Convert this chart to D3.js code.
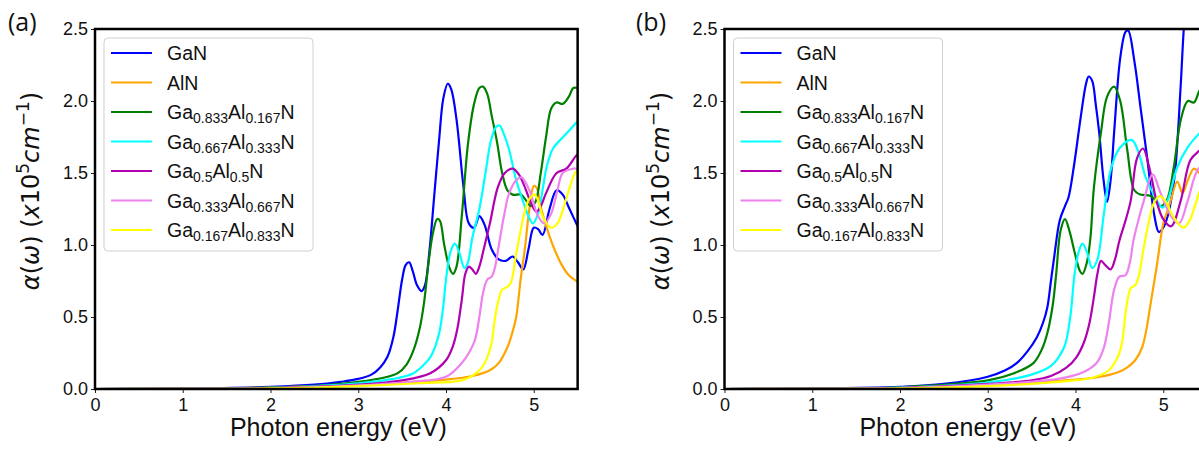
<!DOCTYPE html>
<html>
<head>
<meta charset="utf-8">
<script src="https://cdn.jsdelivr.net/npm/d3@7"></script>
<style>
  body { margin: 0; background: #fff; }
  text { font-family: "Liberation Sans", Arial, sans-serif; }
</style>
</head>
<body>
<svg id="chart" width="1199" height="449"></svg>
<script>
// legend labels, in plotting order
const seriesLabels = ["GaN", "AlN", "Ga0.833Al0.167N", "Ga0.667Al0.333N", "Ga0.5Al0.5N", "Ga0.333Al0.667N", "Ga0.167Al0.833N"];
const seriesColors = ["#0000ff", "#ffa500", "#008000", "#00ffff", "#b000b0", "#ee82ee", "#ffff00"];
const xTicks = [0, 1, 2, 3, 4, 5];
const yTicks = [0.0, 0.5, 1.0, 1.5, 2.0, 2.5];

// panel (a): [photon energy eV, alpha x1e5 cm-1]
const ganA = [[0,0],[1,0.003],[2,0.015],[2.5,0.03],[2.8,0.05],[3,0.07],[3.15,0.1],[3.25,0.15],[3.33,0.22],[3.4,0.36],[3.45,0.55],[3.5,0.76],[3.54,0.86],[3.58,0.88],[3.62,0.82],[3.67,0.72],[3.72,0.68],[3.76,0.72],[3.81,0.95],[3.86,1.3],[3.92,1.72],[3.97,2.02],[4.02,2.12],[4.06,2.08],[4.12,1.87],[4.2,1.4],[4.26,1.15],[4.32,1.12],[4.38,1.2],[4.44,1.14],[4.52,0.97],[4.6,0.9],[4.68,0.89],[4.76,0.92],[4.82,0.88],[4.88,0.83],[4.94,0.97],[5.0,1.12],[5.05,1.11],[5.1,1.07],[5.18,1.25],[5.26,1.38],[5.33,1.35],[5.4,1.26],[5.5,1.13]];
const alnA = [[0,0],[1,0.002],[2,0.01],[3,0.03],[3.5,0.045],[4,0.065],[4.3,0.09],[4.5,0.13],[4.6,0.18],[4.7,0.29],[4.76,0.4],[4.8,0.5],[4.85,0.76],[4.9,0.98],[4.95,1.25],[5.0,1.41],[5.03,1.4],[5.09,1.24],[5.18,1.06],[5.25,0.95],[5.32,0.86],[5.4,0.79],[5.5,0.745]];
const g833A = [[0,0],[1,0.002],[2,0.01],[2.5,0.022],[3,0.05],[3.3,0.08],[3.45,0.11],[3.55,0.17],[3.63,0.27],[3.7,0.42],[3.75,0.6],[3.8,0.87],[3.85,1.08],[3.9,1.18],[3.93,1.17],[3.98,1.0],[4.04,0.84],[4.08,0.8],[4.12,0.85],[4.18,1.2],[4.25,1.7],[4.32,1.98],[4.38,2.09],[4.42,2.1],[4.47,2.05],[4.52,1.9],[4.58,1.72],[4.64,1.5],[4.7,1.38],[4.76,1.35],[4.85,1.35],[4.9,1.32],[4.97,1.27],[5.02,1.3],[5.08,1.5],[5.14,1.75],[5.2,1.95],[5.26,1.99],[5.33,1.98],[5.4,2.03],[5.45,2.09],[5.5,2.09]];
const g667A = [[0,0],[1,0.002],[2,0.008],[3,0.04],[3.4,0.07],[3.63,0.11],[3.75,0.17],[3.82,0.22],[3.88,0.3],[3.93,0.41],[3.97,0.58],[4.0,0.76],[4.05,0.95],[4.1,1.01],[4.15,0.95],[4.21,0.84],[4.25,0.88],[4.3,1.05],[4.38,1.25],[4.45,1.5],[4.51,1.72],[4.57,1.82],[4.61,1.83],[4.66,1.77],[4.72,1.66],[4.8,1.45],[4.88,1.3],[4.94,1.2],[4.99,1.15],[5.05,1.22],[5.1,1.38],[5.15,1.55],[5.22,1.67],[5.35,1.76],[5.5,1.86]];
const g5A = [[0,0],[1,0.002],[2,0.007],[3,0.03],[3.5,0.06],[3.82,0.11],[4.0,0.2],[4.08,0.3],[4.13,0.42],[4.18,0.62],[4.22,0.8],[4.26,0.85],[4.3,0.83],[4.34,0.8],[4.38,0.85],[4.43,0.97],[4.5,1.15],[4.59,1.4],[4.67,1.5],[4.76,1.53],[4.83,1.49],[4.88,1.43],[4.97,1.29],[5.03,1.23],[5.08,1.27],[5.14,1.36],[5.26,1.5],[5.37,1.53],[5.47,1.61],[5.5,1.63]];
const g333A = [[0,0],[1,0.001],[2,0.005],[3,0.025],[3.6,0.05],[4.0,0.085],[4.18,0.18],[4.27,0.26],[4.33,0.34],[4.38,0.5],[4.42,0.66],[4.47,0.76],[4.52,0.78],[4.56,0.85],[4.6,0.99],[4.66,1.2],[4.72,1.36],[4.8,1.45],[4.86,1.47],[4.95,1.38],[5.05,1.2],[5.12,1.15],[5.2,1.22],[5.27,1.38],[5.33,1.5],[5.45,1.53],[5.5,1.53]];
const g167A = [[0,0],[1,0.001],[2,0.004],[3,0.02],[3.7,0.04],[4.18,0.06],[4.32,0.1],[4.41,0.15],[4.47,0.22],[4.52,0.32],[4.56,0.5],[4.6,0.62],[4.64,0.69],[4.7,0.71],[4.74,0.74],[4.8,0.94],[4.85,1.1],[4.9,1.24],[4.95,1.32],[5.01,1.35],[5.06,1.29],[5.1,1.2],[5.2,1.12],[5.27,1.15],[5.33,1.24],[5.4,1.38],[5.47,1.5],[5.5,1.52]];

// panel (b)
const ganB = [[0,0],[1,0.003],[2,0.015],[2.5,0.035],[3,0.085],[3.2,0.13],[3.33,0.18],[3.45,0.26],[3.56,0.36],[3.63,0.46],[3.68,0.57],[3.72,0.75],[3.76,0.93],[3.82,1.17],[3.88,1.27],[3.92,1.33],[3.98,1.54],[4.06,1.89],[4.12,2.12],[4.15,2.17],[4.19,2.14],[4.23,1.98],[4.27,1.78],[4.32,1.45],[4.36,1.3],[4.4,1.45],[4.44,1.78],[4.51,2.3],[4.57,2.48],[4.6,2.49],[4.67,2.28],[4.74,1.96],[4.82,1.59],[4.9,1.2],[4.95,1.09],[5.0,1.12],[5.05,1.2],[5.1,1.35],[5.14,1.54],[5.2,2.12],[5.24,2.55],[5.3,2.9],[5.45,3.0]];
const alnB = [[0,0],[1,0.002],[2,0.008],[3,0.03],[3.5,0.045],[4.0,0.065],[4.28,0.085],[4.5,0.12],[4.59,0.15],[4.68,0.2],[4.76,0.29],[4.81,0.42],[4.85,0.57],[4.93,0.87],[5.0,1.15],[5.05,1.24],[5.09,1.32],[5.16,1.44],[5.22,1.36],[5.28,1.45],[5.35,1.53],[5.41,1.5],[5.5,1.45]];
const g833B = [[0,0],[1,0.002],[2,0.012],[3,0.06],[3.3,0.11],[3.52,0.18],[3.62,0.28],[3.68,0.39],[3.74,0.58],[3.78,0.8],[3.83,1.1],[3.88,1.18],[3.93,1.1],[3.99,0.95],[4.05,0.82],[4.08,0.8],[4.13,0.88],[4.17,1.05],[4.21,1.4],[4.29,1.78],[4.36,2.03],[4.44,2.1],[4.51,2.0],[4.59,1.66],[4.67,1.38],[4.74,1.35],[4.86,1.34],[4.97,1.27],[5.04,1.31],[5.12,1.54],[5.2,1.87],[5.28,2.0],[5.35,1.99],[5.42,2.08],[5.5,2.12]];
const g667B = [[0,0],[1,0.002],[2,0.01],[3,0.045],[3.5,0.1],[3.72,0.16],[3.87,0.29],[3.94,0.5],[3.99,0.8],[4.04,0.96],[4.08,1.01],[4.13,0.95],[4.19,0.84],[4.25,0.9],[4.32,1.2],[4.4,1.52],[4.5,1.67],[4.64,1.73],[4.72,1.64],[4.8,1.47],[4.9,1.34],[4.99,1.26],[5.05,1.31],[5.16,1.54],[5.28,1.68],[5.42,1.78],[5.5,1.82]];
const g5B = [[0,0],[1,0.002],[2,0.008],[3,0.035],[3.5,0.06],[3.72,0.09],[3.9,0.15],[4.01,0.22],[4.1,0.33],[4.16,0.46],[4.21,0.64],[4.25,0.8],[4.29,0.89],[4.34,0.86],[4.4,0.83],[4.45,0.9],[4.5,1.03],[4.57,1.17],[4.63,1.31],[4.7,1.6],[4.77,1.67],[4.84,1.54],[4.93,1.29],[5.0,1.18],[5.09,1.13],[5.2,1.31],[5.31,1.59],[5.42,1.66],[5.5,1.7]];
const g333B = [[0,0],[1,0.001],[2,0.006],[3,0.03],[3.8,0.07],[4.1,0.12],[4.24,0.18],[4.32,0.28],[4.38,0.46],[4.44,0.69],[4.5,0.78],[4.57,0.79],[4.62,0.88],[4.66,1.03],[4.72,1.18],[4.78,1.31],[4.88,1.49],[4.97,1.36],[5.09,1.2],[5.18,1.15],[5.28,1.31],[5.39,1.52],[5.5,1.58]];
const g167B = [[0,0],[1,0.001],[2,0.004],[3,0.02],[3.8,0.05],[4.2,0.08],[4.38,0.13],[4.48,0.22],[4.53,0.32],[4.58,0.57],[4.63,0.7],[4.68,0.72],[4.72,0.78],[4.78,0.99],[4.85,1.2],[4.9,1.3],[4.96,1.34],[5.03,1.3],[5.11,1.2],[5.23,1.12],[5.3,1.17],[5.36,1.27],[5.42,1.38],[5.5,1.5]];

const panels = [
  { tag: "(a)", tagX: 8, left: 95, series: [ganA, alnA, g833A, g667A, g5A, g333A, g167A] },
  { tag: "(b)", tagX: 636, left: 724.5, series: [ganB, alnB, g833B, g667B, g5B, g333B, g167B] }
];

const svg = d3.select("#chart");
const plotTop = 29, plotBottom = 389, unit = 87.75;

panels.forEach((p, pi) => {
  const x = d3.scaleLinear().domain([0, 5.5]).range([p.left, p.left + 5.5 * unit]);
  const y = d3.scaleLinear().domain([0, 2.5]).range([plotBottom, plotTop]);
  const g = svg.append("g");

  const clipId = "clip" + pi;
  svg.append("clipPath").attr("id", clipId).append("rect")
    .attr("x", x(0)).attr("y", plotTop).attr("width", x(5.5) - x(0)).attr("height", plotBottom - plotTop);

  const line = d3.line().x(d => x(d[0])).y(d => y(d[1])).curve(d3.curveCatmullRom.alpha(0.5));
  g.append("g").attr("clip-path", `url(#${clipId})`).selectAll("path").data(p.series).join("path")
    .attr("d", line).attr("fill", "none").attr("stroke", (d, i) => seriesColors[i])
    .attr("stroke-width", 2.2).attr("stroke-linejoin", "round");

  // axes
  const xAxis = g.append("g").attr("transform", `translate(0,${plotBottom})`)
    .call(d3.axisBottom(x).tickValues(xTicks).tickFormat(d3.format("d")).tickSize(4).tickPadding(5));
  const yAxis = g.append("g").attr("transform", `translate(${p.left},0)`)
    .call(d3.axisLeft(y).tickValues(yTicks).tickFormat(d3.format(".1f")).tickSize(4).tickPadding(3));
  [xAxis, yAxis].forEach(a => {
    a.select(".domain").remove();
    a.selectAll("text").attr("font-size", 18).attr("fill", "#111").style("font-family", "'Liberation Sans', Arial, sans-serif");
    a.selectAll("line").attr("stroke", "#222");
  });

  // frame
  g.append("rect").attr("x", x(0)).attr("y", plotTop).attr("width", x(5.5) - x(0)).attr("height", plotBottom - plotTop)
    .attr("fill", "none").attr("stroke", "#000").attr("stroke-width", 2.5);

  // axis labels
  g.append("text").attr("x", (x(0) + x(5.5)) / 2 + 2).attr("y", 436).attr("text-anchor", "middle")
    .attr("font-size", 25).attr("fill", "#111").text("Photon energy (eV)");

  const yl = g.append("text").attr("transform", `translate(${p.left - 56},191) rotate(-90)`)
    .attr("text-anchor", "middle").attr("font-size", 24).attr("fill", "#111")
    .style("font-family", "'DejaVu Sans', sans-serif");
  yl.append("tspan").attr("font-style", "italic").text("α");
  yl.append("tspan").text("(");
  yl.append("tspan").attr("font-style", "italic").text("ω");
  yl.append("tspan").text(") (");
  yl.append("tspan").attr("font-style", "italic").text("x");
  yl.append("tspan").text("10");
  yl.append("tspan").attr("font-size", 17).attr("dy", -10).text("5");
  yl.append("tspan").attr("font-style", "italic").attr("dy", 10).text("cm");
  yl.append("tspan").attr("font-size", 17).attr("dy", -10).text("−1");
  yl.append("tspan").attr("dy", 10).text(")");

  // panel tag
  svg.append("text").attr("x", p.tagX).attr("y", 31).attr("font-size", 25).attr("fill", "#111")
    .style("font-family", "'Open Sans', sans-serif").text(p.tag);

  // legend
  const lx = p.left + 9, ly = 38;
  const leg = g.append("g");
  leg.append("rect").attr("x", lx).attr("y", ly).attr("width", 209).attr("height", 213).attr("rx", 4)
    .attr("fill", "#fff").attr("fill-opacity", 0.8).attr("stroke", "#d0d0d0");
  seriesLabels.forEach((lab, i) => {
    const cy = 53 + i * 29.5;
    leg.append("line").attr("x1", lx + 7).attr("x2", lx + 48).attr("y1", cy).attr("y2", cy)
      .attr("stroke", seriesColors[i]).attr("stroke-width", 2.2);
    const t = leg.append("text").attr("x", lx + 63).attr("y", cy + 7).attr("font-size", 19.5).attr("fill", "#111");
    lab.split(/(\d+\.\d+)/).forEach((part, k) => {
      if (!part) return;
      if (k % 2) t.append("tspan").attr("font-size", 14).attr("dy", 4).text(part);
      else t.append("tspan").attr("dy", k ? -4 : 0).text(part);
    });
  });
});
</script>
</body>
</html>
